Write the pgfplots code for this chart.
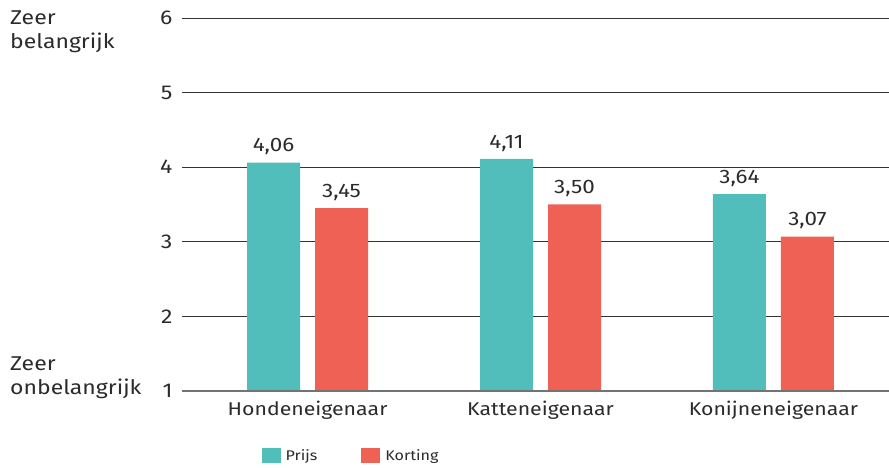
\documentclass[border=0pt]{standalone}
\usepackage{pgfplots}
\pgfplotsset{compat=1.18}
\usepackage{fontspec}
\setmainfont{Fira Sans}[FakeStretch=1.15]
\definecolor{teal}{HTML}{52BEBB}
\definecolor{coral}{HTML}{EF6154}
\definecolor{txt}{HTML}{2B2B2B}
\definecolor{gridc}{HTML}{333333}
\begin{document}
\begin{tikzpicture}[x=1pt,y=1pt]
\useasboundingbox (-182,-77) rectangle (707,391);
\begin{axis}[
  at={(0,0)}, anchor=south west,
  scale only axis,
  width=707pt, height=373pt,
  xmin=-0.539, xmax=2.496,
  ymin=1, ymax=6,
  ytick={1,2,3,4,5,6},
  xtick={0,1,2},
  xticklabels={Hondeneigenaar,Katteneigenaar,Konijneneigenaar},
  axis line style={draw=none},
  axis x line*=bottom,
  axis y line*=left,
  major tick length=0pt,
  ymajorgrids, xmajorgrids=false,
  grid style={draw=gridc, line width=0.8pt},
  ticklabel style={text=txt},
  yticklabel style={font=\fontsize{20}{24}\selectfont, xshift=-6pt},
  xticklabel style={font=\fontsize{18.5}{22}\selectfont, yshift=-7pt},
  /pgf/number format/assume math mode=true,
  ybar, bar width=53pt,
  nodes near coords,
  nodes near coords style={font=\fontsize{19.5}{22}\selectfont, text=txt, yshift=4pt,
    /pgf/number format/use comma, /pgf/number format/fixed, /pgf/number format/fixed zerofill, /pgf/number format/precision=2, /pgf/number format/assume math mode=true},
  legend style={draw=none, at={(0.239,-0.146)}, anchor=north, legend columns=2,
    font=\fontsize{14}{17}\selectfont, text=txt,
    /tikz/every odd column/.append style={column sep=3pt},
    /tikz/every even column/.append style={column sep=42pt}},
  legend image code/.code={\fill[#1] (0pt,-7pt) rectangle (19pt,8pt);},
  clip=false,
]
\addplot[fill=teal, draw=none, bar shift=-34pt] coordinates {(0,4.06) (1,4.11) (2,3.64)};
\addplot[fill=coral, draw=none, bar shift=34pt] coordinates {(0,3.45) (1,3.50) (2,3.07)};
\legend{Prijs,Korting}
\draw[color=gray!90!black, line width=1.3pt] (axis cs:-0.539,1) -- (axis cs:2.496,1);
\end{axis}
\node[anchor=north west, align=left, text=txt, font=\fontsize{20}{24}\selectfont, inner sep=0pt] at (-172,380) {Zeer\\belangrijk};
\node[anchor=south west, align=left, text=txt, font=\fontsize{20}{24}\selectfont, inner sep=0pt] at (-172,-8) {Zeer\\onbelangrijk};
\end{tikzpicture}
\end{document}
